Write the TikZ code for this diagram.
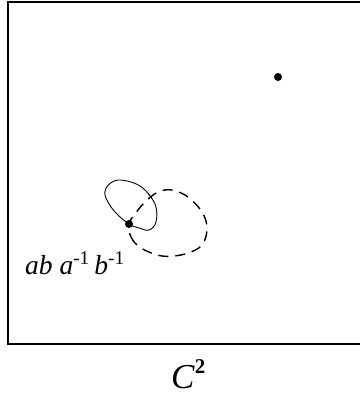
\documentclass[tikz,border=0pt]{standalone}
\usepackage{fontspec}
\setmainfont{Liberation Serif}
\begin{document}
\begin{tikzpicture}[x=1pt,y=-1pt,
  frame/.style={line width=1.3pt},
  solidloop/.style={line width=0.9pt},
  dashloop/.style={line width=1.4pt, dash pattern=on 10pt off 7pt},
  pt/.style={circle, fill=black, inner sep=0pt, minimum size=8pt},
  lbl/.style={inner sep=0pt, font=\fontsize{27.5}{30}\selectfont}]
\useasboundingbox (0,0) rectangle (360,395);
\draw[frame] (360,2) -- (8,2) -- (8,344) -- (360,344);
\node[pt] (p) at (278,77) {};
\node[pt] (q) at (129,224) {};
\draw[solidloop] plot[smooth cycle, tension=0.6] coordinates {(129,224) (115,212) (106,198) (106,188) (118,180) (140,186) (155,204) (156,222) (149,230) (139,228)};
\draw[dashloop] plot[smooth cycle, tension=0.6] coordinates {(129,224) (131,237) (141,248) (162,256) (185,254) (202,245) (207,228) (202,212) (188,197) (172,190) (158,192) (145,202) (135,214)};
\node[lbl, anchor=base west] (w) at (25,274) {\textit{ab a}\textsuperscript{-1}\,\textit{b}\textsuperscript{-1}};
\node[inner sep=0pt, anchor=base west, font=\fontsize{35}{38}\selectfont] (c) at (171,388) {\textit{C}\raisebox{0.42em}{\fontsize{21}{22}\selectfont\textbf{2}}};
\end{tikzpicture}
\end{document}
